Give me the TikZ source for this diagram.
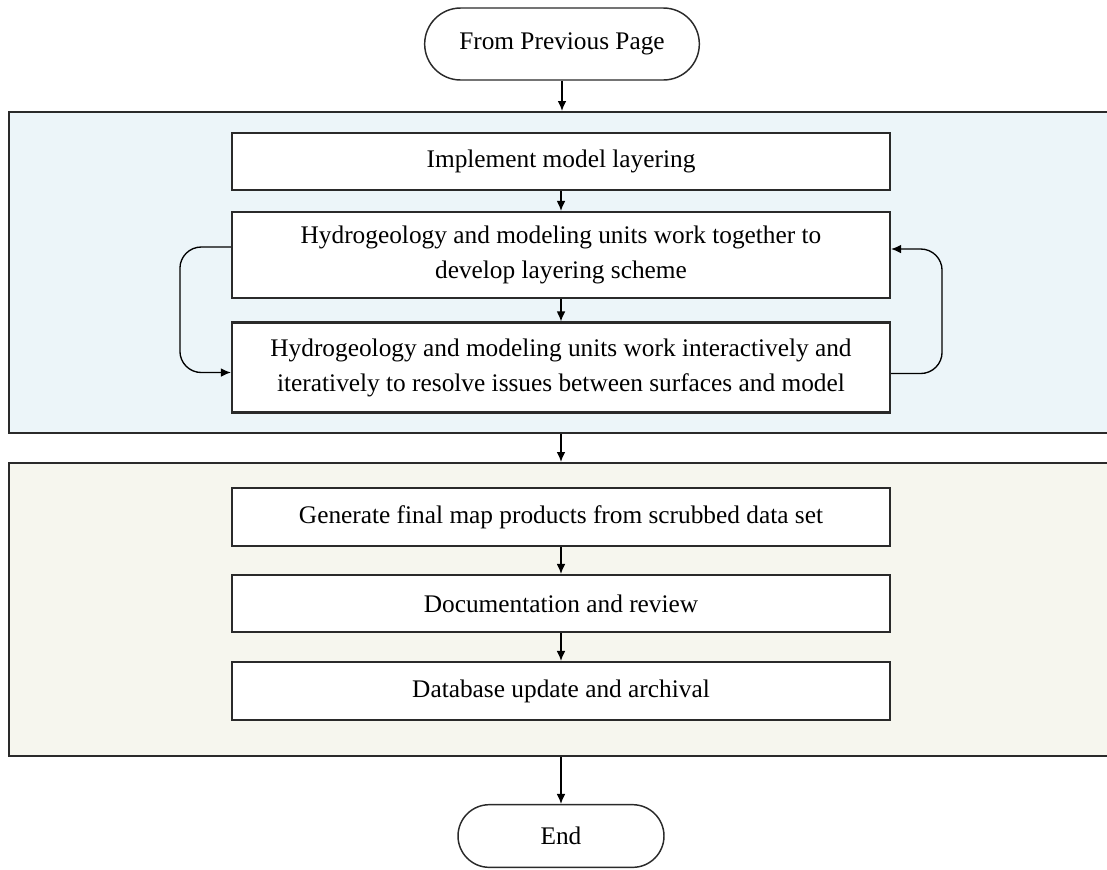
\documentclass[tikz,border=0pt]{standalone}
\usepackage{fontspec}
\setmainfont{Liberation Serif}
\usetikzlibrary{arrows.meta,shapes.misc}
\definecolor{panelblue}{HTML}{ECF5F9}
\definecolor{panelcream}{HTML}{F6F6EE}
\definecolor{edgegray}{HTML}{2A2A2A}
\begin{document}
\begin{tikzpicture}[x=0.75pt,y=-0.75pt,
  every node/.style={font=\fontsize{19}{26.25}\selectfont},
  stepbox/.style={draw=edgegray,line width=1.6pt,fill=white,minimum width=493.5pt,align=center,inner sep=0pt},
  term/.style={draw=edgegray,line width=1.1pt,fill=white,rounded rectangle,inner sep=0pt,align=center},
  panel/.style={draw=edgegray,line width=1.6pt,inner sep=0pt},
  flow/.style={draw=black,line width=1pt,-{Latex[length=7.5pt,width=6.5pt]}}]
\useasboundingbox (0,0) rectangle (1107,869);

% panels
\node[panel,fill=panelblue,minimum width=834pt,minimum height=240.75pt,anchor=north west] (p1) at (8,111) {};
\node[panel,fill=panelcream,minimum width=834pt,minimum height=219.75pt,anchor=north west] (p2) at (8,462) {};

% terminators
\node[term,minimum width=206pt,minimum height=54pt] (start) at (562,44) {From Previous Page};
\node[term,minimum width=154.5pt,minimum height=47pt] (finish) at (561,836) {End};

% steps
\node[stepbox,minimum height=42.75pt] (b1) at (561,161.5) {Implement model layering};
\node[stepbox,minimum height=64.5pt] (b2) at (561,255) {Hydrogeology and modeling units work together to\\develop layering scheme};
\node[stepbox,minimum height=67.5pt] (b3) at (561,367.5) {Hydrogeology and modeling units work interactively and\\iteratively to resolve issues between surfaces and model};
\node[stepbox,minimum height=43.5pt] (b4) at (561,517) {Generate final map products from scrubbed data set};
\node[stepbox,minimum height=42.75pt] (b5) at (561,603.5) {Documentation and review};
\node[stepbox,minimum height=43.5pt] (b6) at (561,691) {Database update and archival};

% connectors
\draw[flow] (start.south) -- (start.south |- p1.north);
\draw[flow] (b1.south) -- (b2.north);
\draw[flow] (b2.south) -- (b3.north);
\draw[flow] (b3.south |- p1.south) -- (b3.south |- p2.north);
\draw[flow] (b4.south) -- (b5.north);
\draw[flow] (b5.south) -- (b6.north);
\draw[flow] (finish.north |- p2.south) -- (finish.north);

% loops
\draw[flow,rounded corners=16pt] ([yshift=6pt]b2.west) -- ++(-51,0) |- ([yshift=-3.75pt]b3.west);
\draw[flow,rounded corners=16pt] ([yshift=-4.5pt]b3.east) -- ++(51,0) |- ([yshift=4.5pt]b2.east);
\end{tikzpicture}
\end{document}
